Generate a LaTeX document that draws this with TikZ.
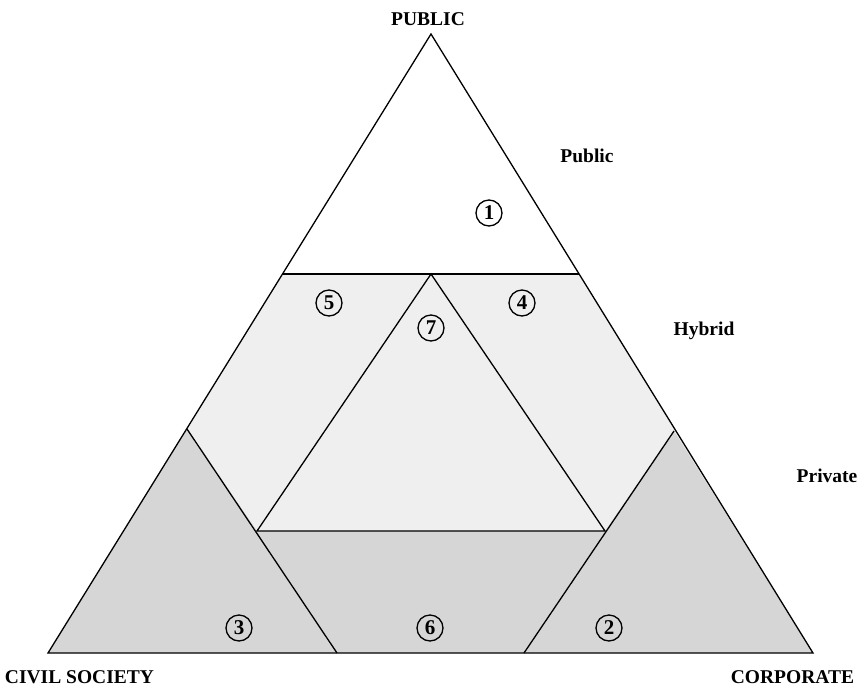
\documentclass[tikz,border=0pt]{standalone}
\usepackage{fontspec}
\setmainfont{Liberation Serif}
\definecolor{hybridgray}{HTML}{EFEFEF}
\definecolor{privategray}{HTML}{D6D6D6}

\begin{document}
\begin{tikzpicture}[x=1pt, y=-1pt, line width=1.3pt,
    sector/.style={font=\fontsize{19.5}{22}\selectfont\bfseries},
    zone/.style={circle, draw, line width=1.3pt, inner sep=0pt, minimum size=26pt,
        font=\fontsize{21}{22}\selectfont\bfseries}]
    \useasboundingbox (0,0) rectangle (860,686);
    % outer corners
    \coordinate (pub) at (431,34);
    \coordinate (civ) at (48,653);
    \coordinate (cor) at (813,653);
    % hybrid line
    \coordinate (hl) at (283,274);
    \coordinate (hr) at (579,274);
    % inner triangle
    \coordinate (it) at (431,274);
    \coordinate (il) at (257,531);
    \coordinate (ir) at (605,531);
    % private triangles
    \coordinate (cl) at (187,429);
    \coordinate (cb) at (337,653);
    \coordinate (pr) at (674,431);
    \coordinate (pb) at (524,653);

    \fill[hybridgray] (pub) -- (civ) -- (cor) -- cycle;
    \fill[white] (pub) -- (hl) -- (hr) -- cycle;
    \fill[privategray] (civ) -- (cl) -- (il) -- (ir) -- (pr) -- (cor) -- cycle;

    \draw (pub) -- (civ) -- (cor) -- cycle;
    \draw (hl) -- (hr);
    \draw (it) -- (il) -- (ir) -- cycle;
    \draw (cl) -- (cb);
    \draw (pr) -- (pb);

    \node[sector] (lpub) at (428,19) {PUBLIC};
    \node[sector, anchor=west] (lciv) at (1,677) {CIVIL SOCIETY};
    \node[sector, anchor=east] (lcor) at (858,677) {CORPORATE};
    \node[sector] (tpub) at (587,156) {Public};
    \node[sector] (thyb) at (704,331) {Hybrid};
    \node[sector] (tpri) at (827,476) {Private};

    \node[zone] (z1) at (489,213) {1};
    \node[zone] (z2) at (609,628) {2};
    \node[zone] (z3) at (239,628) {3};
    \node[zone] (z4) at (522,303) {4};
    \node[zone] (z5) at (329,303) {5};
    \node[zone] (z6) at (430,628) {6};
    \node[zone] (z7) at (431,328) {7};
\end{tikzpicture}
\end{document}
